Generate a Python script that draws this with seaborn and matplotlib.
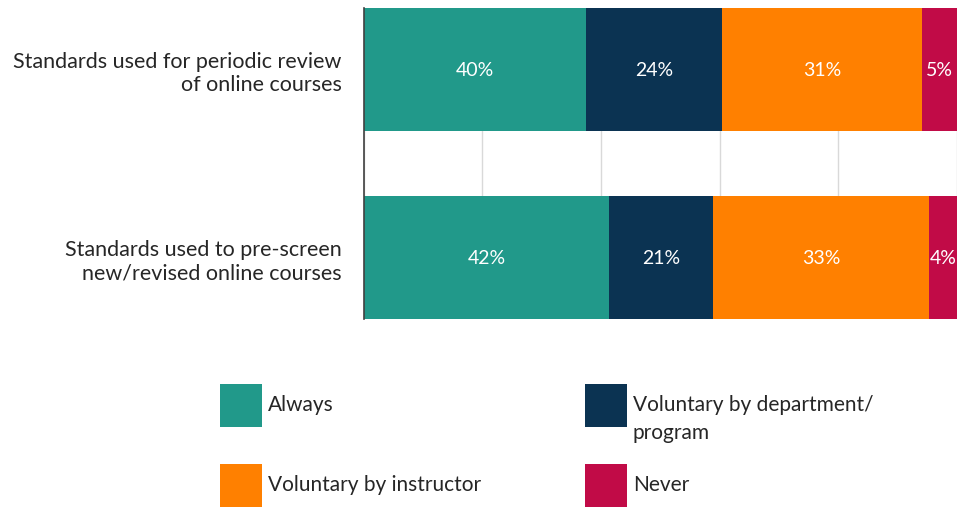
import numpy as np
import pandas as pd
import matplotlib.pyplot as plt
from matplotlib.patches import Rectangle
import seaborn as sns

# Data
questions = ['Standards used for periodic review\nof online courses',
             'Standards used to pre-screen\nnew/revised online courses']
categories = ['Always', 'Voluntary by department/\nprogram', 'Voluntary by instructor', 'Never']
colors = ['#21998A', '#0B3352', '#FF8000', '#C10B47']

# segment lengths as drawn (percent of bar)
always = [37.4, 41.4]
voluntary_dept = [23.0, 17.5]
voluntary_instr = [33.6, 36.4]
never = [6.0, 4.7]

# percentages printed on the segments
label_always = ['40%', '42%']
label_dept = ['24%', '21%']
label_instr = ['31%', '33%']
label_never = ['5%', '4%']

sns.set_theme(style='white')
plt.rcParams['font.family'] = ['Lato', 'DejaVu Sans']

df = pd.DataFrame({'question': questions, 'Always': always, 'Dept': voluntary_dept,
                   'Instr': voluntary_instr, 'Never': never})
series = ['Always', 'Dept', 'Instr', 'Never']
labels = [label_always, label_dept, label_instr, label_never]
cum = df[series].cumsum(axis=1)

fig = plt.figure(figsize=(9.6, 5.1), dpi=100)
ax = fig.add_axes([0.379, 0.373, 0.618, 0.610])

# stacked bars: draw cumulative totals from the outermost segment inwards
bar_w = 0.656
for i in reversed(range(len(series))):
    sns.barplot(x=cum[series[i]], y=df['question'], color=colors[i], orient='h',
                width=bar_w, saturation=1, linewidth=0, ax=ax, zorder=2)

# segment labels
for i, s in enumerate(series):
    centers = cum[s] - df[s] / 2
    for j, c in enumerate(centers):
        ax.text(c, j, labels[i][j], ha='center', va='center', color='white',
                fontsize=14, zorder=3)

ax.set_xlim(0, 100)
ax.set_ylim(1 + bar_w / 2, -bar_w / 2)
ax.set_xticks(np.arange(0, 101, 20))
ax.xaxis.grid(True, color='#d9d9d9', linewidth=1, zorder=0)
ax.set_axisbelow(True)
ax.tick_params(axis='x', length=0, labelbottom=False)
ax.tick_params(axis='y', length=0, pad=16, labelsize=15.5, labelcolor='#262626')
ax.set_xlabel('')
ax.set_ylabel('')
for sp in ['top', 'right', 'bottom']:
    ax.spines[sp].set_visible(False)
ax.spines['left'].set_color('#404040')
ax.spines['left'].set_linewidth(1.2)

# legend: 2 x 2 grid of square swatches with text to the right
sw_w, sw_h = 42 / 960, 43 / 510
col_x = [220 / 960, 585 / 960]
row_top = [1 - 385 / 510, 1 - 465 / 510]
for k, (name, col) in enumerate(zip(categories, colors)):
    r, c = [(0, 0), (0, 1), (1, 0), (1, 1)][k]
    x0, y_top = col_x[c], row_top[r]
    fig.patches.append(Rectangle((x0, y_top - sw_h), sw_w, sw_h, transform=fig.transFigure,
                                 facecolor=col, edgecolor='none'))
    fig.text(x0 + sw_w + 6 / 960, y_top - sw_h / 2 + 11 / 510, name, ha='left', va='top',
             fontsize=15, color='#262626', linespacing=1.5)

fig.savefig('out.png', dpi=100)
